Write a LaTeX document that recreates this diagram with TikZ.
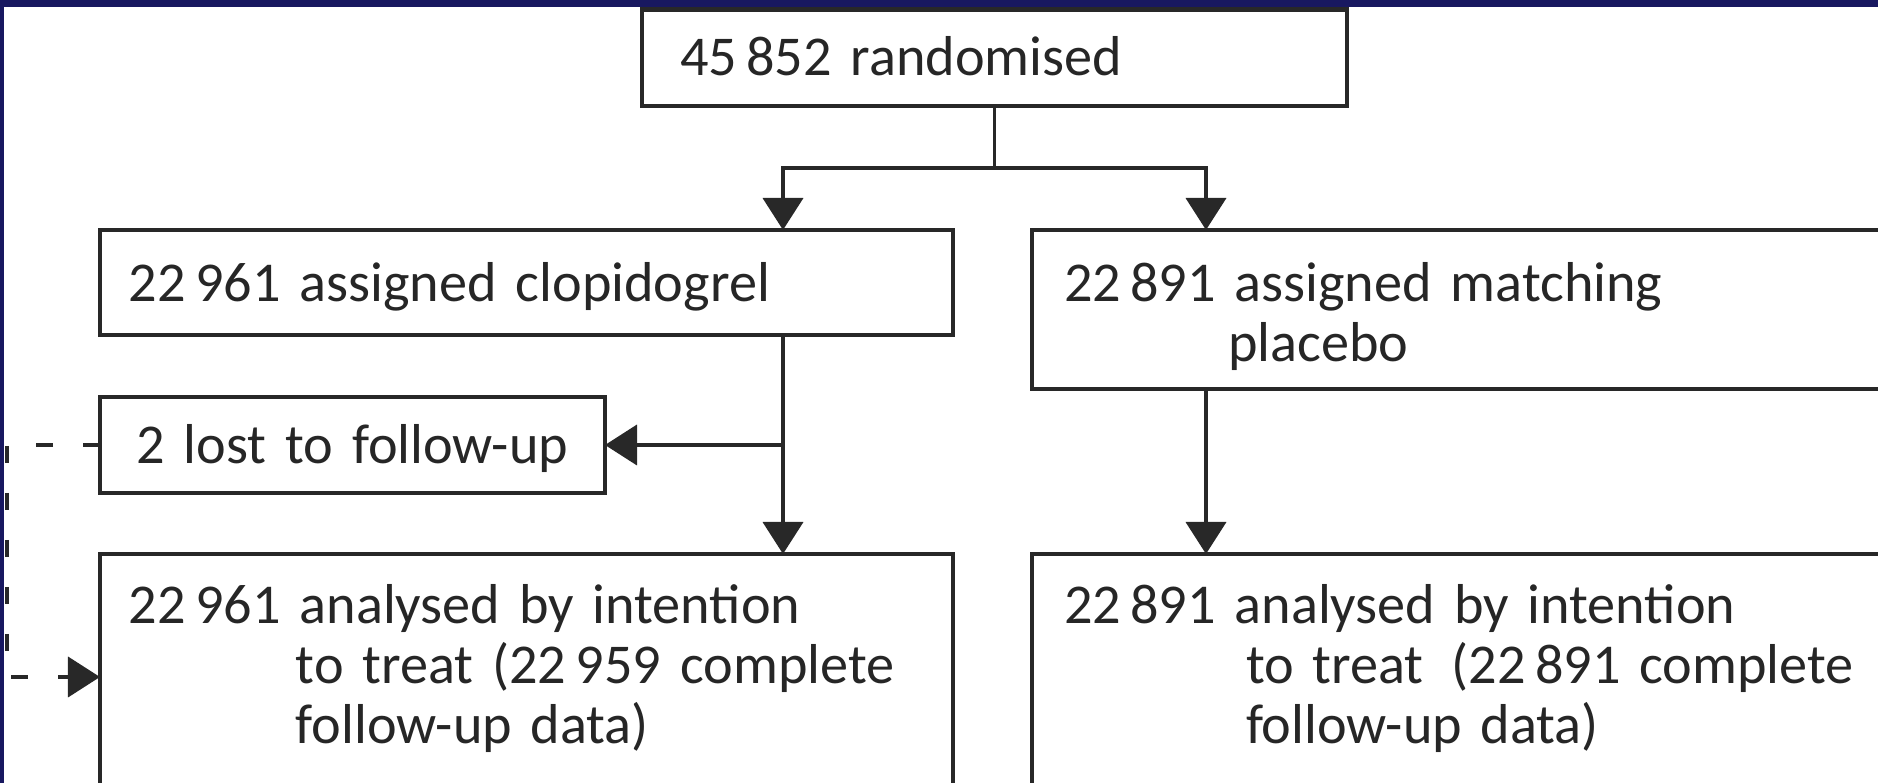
\documentclass[tikz,border=0pt]{standalone}
\usepackage{fontspec}
\setmainfont{Carlito}
\usetikzlibrary{arrows.meta}
\definecolor{bandnavy}{RGB}{24,24,96}
\definecolor{boxline}{RGB}{40,40,40}
\tikzset{
    flow-box/.style = {draw=boxline, line width=1.2pt, rectangle, anchor=north west, outer sep=0pt, inner ysep=0pt, align=left, font=\fontsize{16}{17}\selectfont, text=black!85},
    flow-line/.style = {draw=boxline, line width=1.1pt},
    flow-arrow/.style = {flow-line, -{Triangle[width=0.4cm,length=0.32cm]}},
    dash-link/.style = {flow-arrow, dash pattern=on 0.17cm off 0.3cm},
}
\begin{document}
\begin{tikzpicture}
\useasboundingbox (0,-7.83) rectangle (18.78,0);
\clip (0,-7.83) rectangle (18.78,0);
\fill[bandnavy] (0,0) rectangle (18.78,-0.07);
\fill[bandnavy] (0,0) rectangle (0.04,-7.83);

\node[flow-box, inner xsep=0.38cm, text width=6.29cm, text height=0.66cm, text depth=0.305cm] (rand) at (6.42,-0.095) {45\,852 randomised};
\node[flow-box, inner xsep=0.29cm, text width=7.95cm, text height=0.72cm, text depth=0.33cm] (alloc1) at (1.00,-2.30) {22\,961 assigned clopidogrel};
\node[flow-box, inner xsep=0.32cm, text width=9cm, text height=0.72cm, text depth=0.87cm] (alloc2) at (10.32,-2.30) {22\,891 assigned matching\\\hspace*{1.64cm}placebo};
\node[flow-box, align=center, inner xsep=0pt, text width=5.05cm, text height=0.67cm, text depth=0.29cm] (lost) at (1.00,-3.97) {2 lost to follow-up};
\node[flow-box, inner xsep=0.29cm, text width=7.95cm, text height=0.7cm, text depth=2.5cm] (anal1) at (1.00,-5.54) {22\,961 analysed by intention\\\hspace*{1.67cm}to treat (22\,959 complete\\\hspace*{1.67cm}follow-up data)};
\node[flow-box, inner xsep=0.32cm, text width=9cm, text height=0.7cm, text depth=2.5cm] (anal2) at (10.32,-5.54) {22\,891 analysed by intention\\\hspace*{1.82cm}to treat\enspace(22\,891 complete\\\hspace*{1.82cm}follow-up data)};

% branch points
\coordinate (lx) at (7.83,0);
\coordinate (rx) at (12.06,0);
\coordinate (side) at (0.07,-6.77);

\draw[flow-line] (rand.south) -- ++(0,-0.62) coordinate (fork);
\draw[flow-arrow] (fork) -| (lx |- alloc1.north);
\draw[flow-arrow] (fork) -| (rx |- alloc2.north);
\draw[flow-arrow] (lx |- alloc1.south) -- (lx |- anal1.north);
\draw[flow-arrow] (lx |- lost.east) -- (lost.east);
\draw[flow-arrow] (rx |- alloc2.south) -- (rx |- anal2.north);
\draw[dash-link] (lost.west) -| (side) -- (side -| anal1.west);
\end{tikzpicture}
\end{document}
